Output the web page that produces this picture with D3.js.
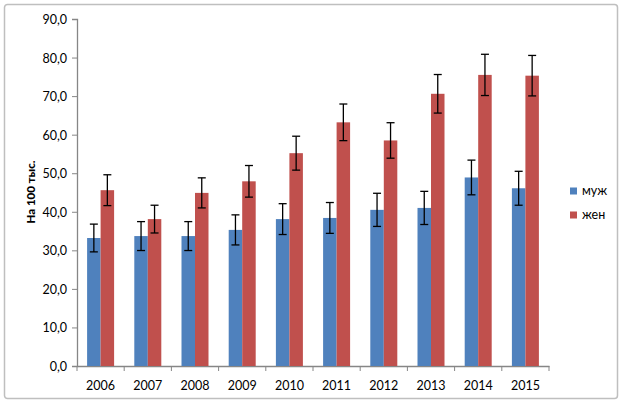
<!DOCTYPE html>
<html><head><meta charset="utf-8">
<script src="https://cdn.jsdelivr.net/npm/d3@7/dist/d3.min.js"></script>
<style>body{margin:0;background:#fff}svg{display:block}text{font-family:Lato,"Open Sans",sans-serif}</style>
</head><body>
<svg id="c" width="625" height="406"></svg>
<script>
const years = ["2006","2007","2008","2009","2010","2011","2012","2013","2014","2015"];
const seriesNames = ["муж","жен"];
const male = [33.2,33.7,33.7,35.3,38.1,38.4,40.5,41.0,48.9,46.1];
const female = [45.6,38.1,44.9,47.9,55.2,63.2,58.5,70.6,75.5,75.3];
const maleErr = [3.6,3.75,3.75,3.9,4.0,4.0,4.3,4.3,4.5,4.4];
const femaleErr = [4.0,3.6,3.9,4.1,4.4,4.75,4.6,5.0,5.35,5.25];
const yTicks = [0,10,20,30,40,50,60,70,80,90];
const colors = ["#4F81BD","#C0504D"];

const svg = d3.select("#c");
svg.append("rect").attr("x",4.5).attr("y",4.5).attr("width",613).attr("height",394)
  .attr("rx",3).attr("fill","#fff").attr("stroke","#BFBFBF").attr("stroke-width",1.5);

const x0 = d3.scaleBand().domain(years).range([77,549]).paddingInner(0).paddingOuter(0);
const inner = 27/47.2;
const x1 = d3.scaleBand().domain(seriesNames).range([0,x0.bandwidth()*inner]);
const y = d3.scaleLinear().domain([0,90]).range([366,19]);

const series = [male,female], errs=[maleErr,femaleErr];
const off = (x0.bandwidth()*(1-inner))/2;

// y axis
const ya = svg.append("g").attr("transform","translate(77,0)")
  .call(d3.axisLeft(y).tickValues(yTicks).tickSize(5).tickFormat(d=>d3.format(".1f")(d).replace(".",",")));
ya.select(".domain").attr("stroke","#868686").attr("stroke-width",1.3);
ya.selectAll(".tick line").attr("stroke","#868686");
ya.selectAll(".tick text").attr("font-size",12.5).attr("fill","#000").attr("x",-10).attr("dy","0.36em");

// x axis
const xa = svg.append("g").attr("transform","translate(0,366)")
  .call(d3.axisBottom(x0).tickSize(0).tickSizeOuter(0));
xa.select(".domain").attr("stroke","#868686").attr("stroke-width",1.3);
xa.selectAll(".tick text").attr("font-size",12.5).attr("fill","#000").attr("y",15).attr("dy","0.71em");
// x ticks at band edges
const edges = years.map(d=>x0(d)).concat([x0.range()[1]]);
svg.append("g").selectAll("line").data(edges).join("line")
  .attr("x1",d=>d).attr("x2",d=>d).attr("y1",366).attr("y2",371)
  .attr("stroke","#868686").attr("stroke-width",1);

// bars
series.forEach((vals,si)=>{
  svg.append("g").selectAll("rect").data(vals).join("rect")
    .attr("x",(d,i)=>x0(years[i])+off+x1(seriesNames[si]))
    .attr("width",x1.bandwidth())
    .attr("y",d=>y(d)).attr("height",d=>y(0)-y(d))
    .attr("fill",colors[si]);
});
// error bars
series.forEach((vals,si)=>{
  const g = svg.append("g").attr("stroke","#000").attr("stroke-width",1.3);
  vals.forEach((v,i)=>{
    const cx = x0(years[i])+off+x1(seriesNames[si])+x1.bandwidth()/2;
    const e = errs[si][i];
    g.append("line").attr("x1",cx).attr("x2",cx).attr("y1",y(v+e)).attr("y2",y(v-e));
    g.append("line").attr("x1",cx-4).attr("x2",cx+4).attr("y1",y(v+e)).attr("y2",y(v+e));
    g.append("line").attr("x1",cx-4).attr("x2",cx+4).attr("y1",y(v-e)).attr("y2",y(v-e));
  });
});

// y title
svg.append("text").attr("transform","translate(35,192) rotate(-90)")
  .attr("text-anchor","middle").attr("font-size",11.5).attr("font-weight",900).text("На 100 тыс.");

// legend
const lg = svg.append("g");
seriesNames.forEach((n,i)=>{
  const cy = 191 + i*24;
  lg.append("rect").attr("x",570).attr("y",cy-3.5).attr("width",7).attr("height",7).attr("fill",colors[i]);
  lg.append("text").attr("x",582).attr("y",cy).attr("dy","0.35em").attr("font-size",12.5).text(n);
});
</script>
</body></html>
